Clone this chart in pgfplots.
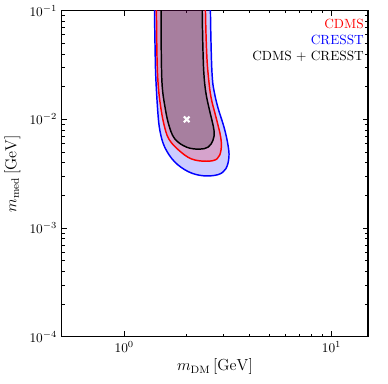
\documentclass[border=0pt]{standalone}
\usepackage{pgfplots}
\pgfplotsset{compat=1.18}

\begin{document}
\begin{tikzpicture}
\begin{axis}[
    scale only axis,
    width=230pt, height=245pt,
    xmode=log, ymode=log,
    xmin=0.5, xmax=15,
    ymin=1e-4, ymax=1e-1,
    xtick={1,10},
    ytick={1e-4,1e-3,1e-2,1e-1},
    tick align=inside,
    major tick length=4pt,
    minor tick length=2pt,
    axis line style={line width=0.9pt},
    every tick/.style={black, line width=0.5pt},
    xlabel={$m_{\mathrm{DM}}\,[\mathrm{GeV}]$},
    ylabel={$m_{\mathrm{med}}\,[\mathrm{GeV}]$},
    label style={font=\large},
    xlabel style={yshift=2pt},
    clip=true,
]

% CRESST
\addplot[draw=blue, line width=1.1pt, fill=blue, fill opacity=0.2, smooth, tension=0.6] coordinates {
    (1.40,0.3) (1.40,0.1) (1.41,0.04) (1.42,0.0241) (1.45,0.01208) (1.485,0.00794)
    (1.567,0.00556) (1.75,0.00407) (2.04,0.00330) (2.40,0.00303) (2.83,0.00310)
    (3.09,0.00351) (3.20,0.00451) (3.16,0.00593) (3.03,0.00846) (2.83,0.01285)
    (2.71,0.01836) (2.66,0.0241) (2.63,0.04) (2.605,0.1) (2.60,0.3)
} -- cycle;

% CDMS
\addplot[draw=red, line width=1.1pt, fill=red, fill opacity=0.2, smooth, tension=0.6] coordinates {
    (1.43,0.3) (1.43,0.1) (1.44,0.035) (1.46,0.02) (1.495,0.0135) (1.55,0.0092)
    (1.637,0.00665) (1.827,0.00523) (2.107,0.00433) (2.485,0.00412) (2.803,0.00433)
    (2.93,0.00523) (2.92,0.00686) (2.772,0.01043) (2.624,0.01585) (2.55,0.0241)
    (2.50,0.04) (2.465,0.1) (2.46,0.3)
} -- cycle;

% CDMS + CRESST
\addplot[draw=black, line width=1.1pt, fill=black, fill opacity=0.22, smooth, tension=0.6] coordinates {
    (1.505,0.3) (1.505,0.1) (1.51,0.035) (1.525,0.02) (1.565,0.0137) (1.635,0.0091)
    (1.75,0.00665) (1.995,0.00556) (2.30,0.00532) (2.54,0.00556) (2.68,0.00644)
    (2.71,0.00794) (2.58,0.01208) (2.485,0.01687) (2.43,0.0241) (2.40,0.04)
    (2.378,0.1) (2.375,0.3)
} -- cycle;

% best fit point
\addplot[only marks, mark=x, mark size=3pt, white, line width=1.6pt] coordinates {(2,0.01)};

\node[anchor=north east, align=right, inner sep=0pt]
    at ([xshift=-3pt, yshift=-6.5pt]rel axis cs:1,1)
    {\textcolor{red}{CDMS}\\ \textcolor{blue}{CRESST}\\ CDMS $+$ CRESST};
\end{axis}
\path ([shift={(-43pt,-35pt)}]current axis.south west) rectangle ([shift={(15pt,8pt)}]current axis.north east);
\end{tikzpicture}
\end{document}
